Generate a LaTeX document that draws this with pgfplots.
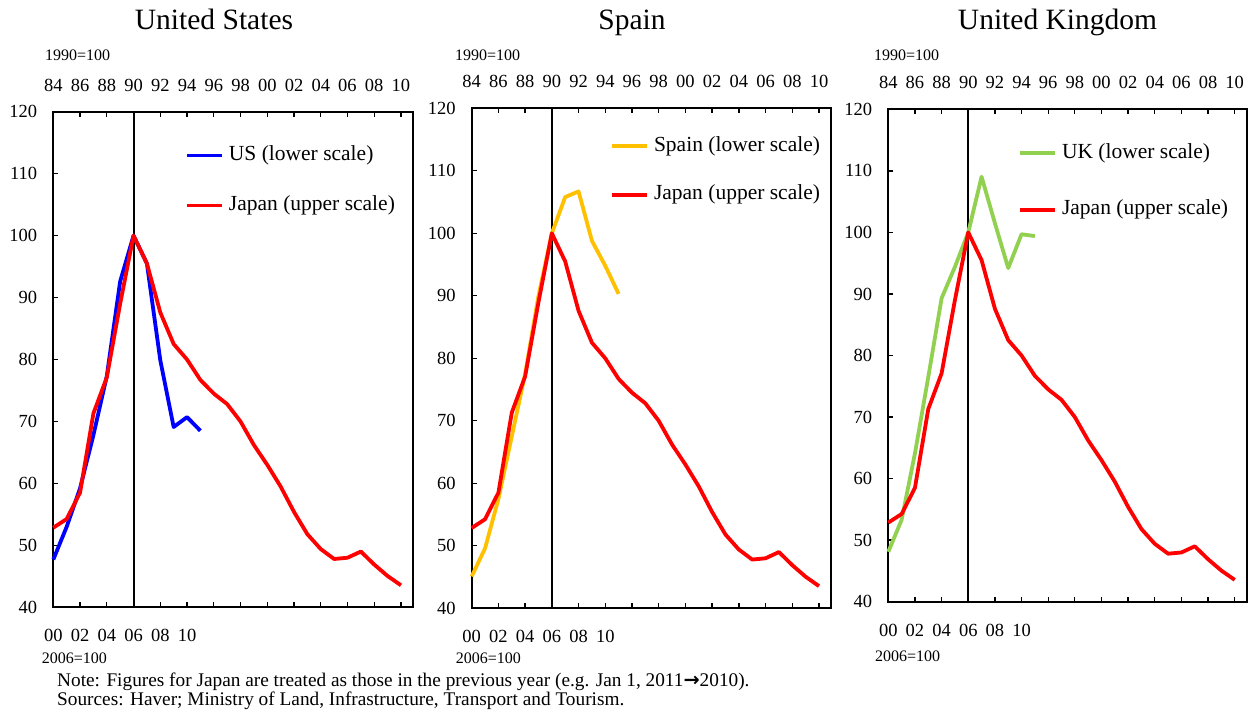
\documentclass[border=0pt]{standalone}
\usepackage{pgfplots}
\usepackage{pgfplotstable}
\pgfplotsset{compat=1.18}
\usepackage{fontspec}
\setmainfont{Liberation Serif}
\newfontfamily\dejavu{DejaVu Sans}
\definecolor{jpred}{RGB}{255,0,0}
\definecolor{usblue}{RGB}{0,0,255}
\definecolor{esgold}{RGB}{255,192,0}
\definecolor{ukgreen}{RGB}{146,208,80}

% Japan, upper scale (1990=100)
\pgfplotstableread{
year v
1984 52.85
1985 54.25
1986 58.5
1987 71.3
1988 77.1
1989 89.0
1990 100
1991 95.5
1992 87.6
1993 82.5
1994 80.0
1995 76.7
1996 74.5
1997 72.8
1998 70.0
1999 66.2
2000 63.0
2001 59.5
2002 55.4
2003 51.8
2004 49.4
2005 47.8
2006 48.0
2007 49.0
2008 46.9
2009 45.05
2010 43.55
}\japan

% US, lower scale (2006=100)
\pgfplotstableread{
year v
2000 47.7
2001 53.0
2002 59.2
2003 67.8
2004 77.3
2005 92.6
2006 100
2007 95.5
2008 79.9
2009 69.1
2010 70.7
2011 68.5
}\us

% Spain, lower scale (2006=100)
\pgfplotstableread{
year v
2000 45.1
2001 49.6
2002 57.5
2003 67.5
2004 77.5
2005 90.0
2006 100
2007 105.8
2008 106.7
2009 98.8
2010 94.8
2011 90.3
}\spain

% UK, lower scale (2006=100)
\pgfplotstableread{
year v
2000 48.1
2001 53.3
2002 64.1
2003 76.5
2004 89.3
2005 94.4
2006 100
2007 109.05
2008 101.5
2009 94.2
2010 99.7
2011 99.4
}\uk

\newcommand{\tickfont}{\fontsize{18.5bp}{20bp}\selectfont}
\newcommand{\smallfont}{\fontsize{16bp}{18bp}\selectfont}
\newcommand{\legfont}{\fontsize{21.5bp}{24bp}\selectfont}
\newcommand{\titlefont}{\fontsize{29.5bp}{32bp}\selectfont}
\newcommand{\notefont}{\fontsize{19.3bp}{21bp}\selectfont}

\pgfplotsset{
  panel/.style={
    scale only axis,
    anchor=south west,
    xmin=1984, xmax=2010.9,
    ymin=40, ymax=120,
    clip=false,
    xtick={1984,1986,...,2010},
    xticklabels={84,86,88,90,92,94,96,98,00,02,04,06,08,10},
    xtick pos=both,
    xticklabel pos=upper,
    ytick={40,50,...,120},
    ytick pos=left,
    tick align=inside,
    major tick length=5bp,
    major tick style={line width=1.3bp, black},
    axis line style={line width=2bp, black},
    /pgf/number format/assume math mode=true,
    ticklabel style={font=\tickfont},
    xticklabel style={anchor=center, yshift=26.5bp, inner sep=0pt},
    yticklabel style={anchor=east, inner sep=0pt, xshift=-16bp},
    legend cell align=left,
    legend style={draw=none, fill=none, anchor=north west, inner sep=0pt,
      column sep=5bp,
      nodes={inner sep=0pt, text height=14bp, text depth=4bp, font=\legfont}},
    legend image code/.code={\draw[##1, line width=3.8bp] (0bp,0bp) -- (35bp,0bp);},
  },
  dat/.style={line width=3.8bp, line join=round},
}

\newcommand{\lowerlabels}{%
  \node[font=\tickfont, inner sep=0pt] at (axis cs:1984,40) [yshift=-28.5bp] {00};
  \node[font=\tickfont, inner sep=0pt] at (axis cs:1986,40) [yshift=-28.5bp] {02};
  \node[font=\tickfont, inner sep=0pt] at (axis cs:1988,40) [yshift=-28.5bp] {04};
  \node[font=\tickfont, inner sep=0pt] at (axis cs:1990,40) [yshift=-28.5bp] {06};
  \node[font=\tickfont, inner sep=0pt] at (axis cs:1992,40) [yshift=-28.5bp] {08};
  \node[font=\tickfont, inner sep=0pt] at (axis cs:1994,40) [yshift=-28.5bp] {10};
}

\begin{document}
\begin{tikzpicture}
\useasboundingbox (0,0) rectangle (1249bp,716bp);

% ---------- United States ----------
\begin{axis}[panel, at={(53.3bp,108.7bp)}, width=359.7bp, height=495.6bp,
  legend style={at={(0.366,0.930)}, row sep=32bp}]
\addplot[black, line width=2bp, forget plot] coordinates {(1990,40) (1990,120)};
\addplot[usblue, dat] table[x expr=\thisrow{year}-16, y=v]{\us};
\addplot[jpred, dat] table[x=year, y=v]{\japan};
\legend{US (lower scale), Japan (upper scale)}
\lowerlabels
\end{axis}

% ---------- Spain ----------
\begin{axis}[panel, at={(471.7bp,107.7bp)}, width=359.3bp, height=500bp,
  legend style={at={(0.385,0.9426)}, row sep=30.7bp}]
\addplot[black, line width=2bp, forget plot] coordinates {(1990,40) (1990,120)};
\addplot[esgold, dat] table[x expr=\thisrow{year}-16, y=v]{\spain};
\addplot[jpred, dat] table[x=year, y=v]{\japan};
\legend{Spain (lower scale), Japan (upper scale)}
\lowerlabels
\end{axis}

% ---------- United Kingdom ----------
\begin{axis}[panel, at={(888.3bp,114.3bp)}, width=358.4bp, height=492.4bp,
  legend style={at={(0.362,0.9296)}, row sep=38.5bp}]
\addplot[black, line width=2bp, forget plot] coordinates {(1990,40) (1990,120)};
\addplot[ukgreen, dat] table[x expr=\thisrow{year}-16, y=v]{\uk};
\addplot[jpred, dat] table[x=year, y=v]{\japan};
\legend{UK (lower scale), Japan (upper scale)}
\lowerlabels
\end{axis}

% titles
\node[anchor=base, font=\titlefont, inner sep=0pt] at (214bp,686bp) {United States};
\node[anchor=base, font=\titlefont, inner sep=0pt] at (632bp,686bp) {Spain};
\node[anchor=base, font=\titlefont, inner sep=0pt] at (1057.5bp,686bp) {United Kingdom};

% scale notes
\node[anchor=west, font=\smallfont, inner sep=0pt] at (45bp,660.3bp) {1990=100};
\node[anchor=west, font=\smallfont, inner sep=0pt] at (455bp,660.3bp) {1990=100};
\node[anchor=west, font=\smallfont, inner sep=0pt] at (874bp,660.3bp) {1990=100};
\node[anchor=west, font=\smallfont, inner sep=0pt] at (41.7bp,57.5bp) {2006=100};
\node[anchor=west, font=\smallfont, inner sep=0pt] at (455.7bp,57.5bp) {2006=100};
\node[anchor=west, font=\smallfont, inner sep=0pt] at (875bp,60bp) {2006=100};

% notes
\node[anchor=base west, font=\notefont, inner sep=0pt] at (57bp,29.3bp)
  {Note: Figures for Japan are treated as those in the previous year (e.g. Jan 1, 2011{\dejavu\bfseries →}2010).};
\node[anchor=base west, font=\notefont, inner sep=0pt] at (57bp,11bp)
  {Sources: Haver; Ministry of Land, Infrastructure, Transport and Tourism.};
\end{tikzpicture}
\end{document}
